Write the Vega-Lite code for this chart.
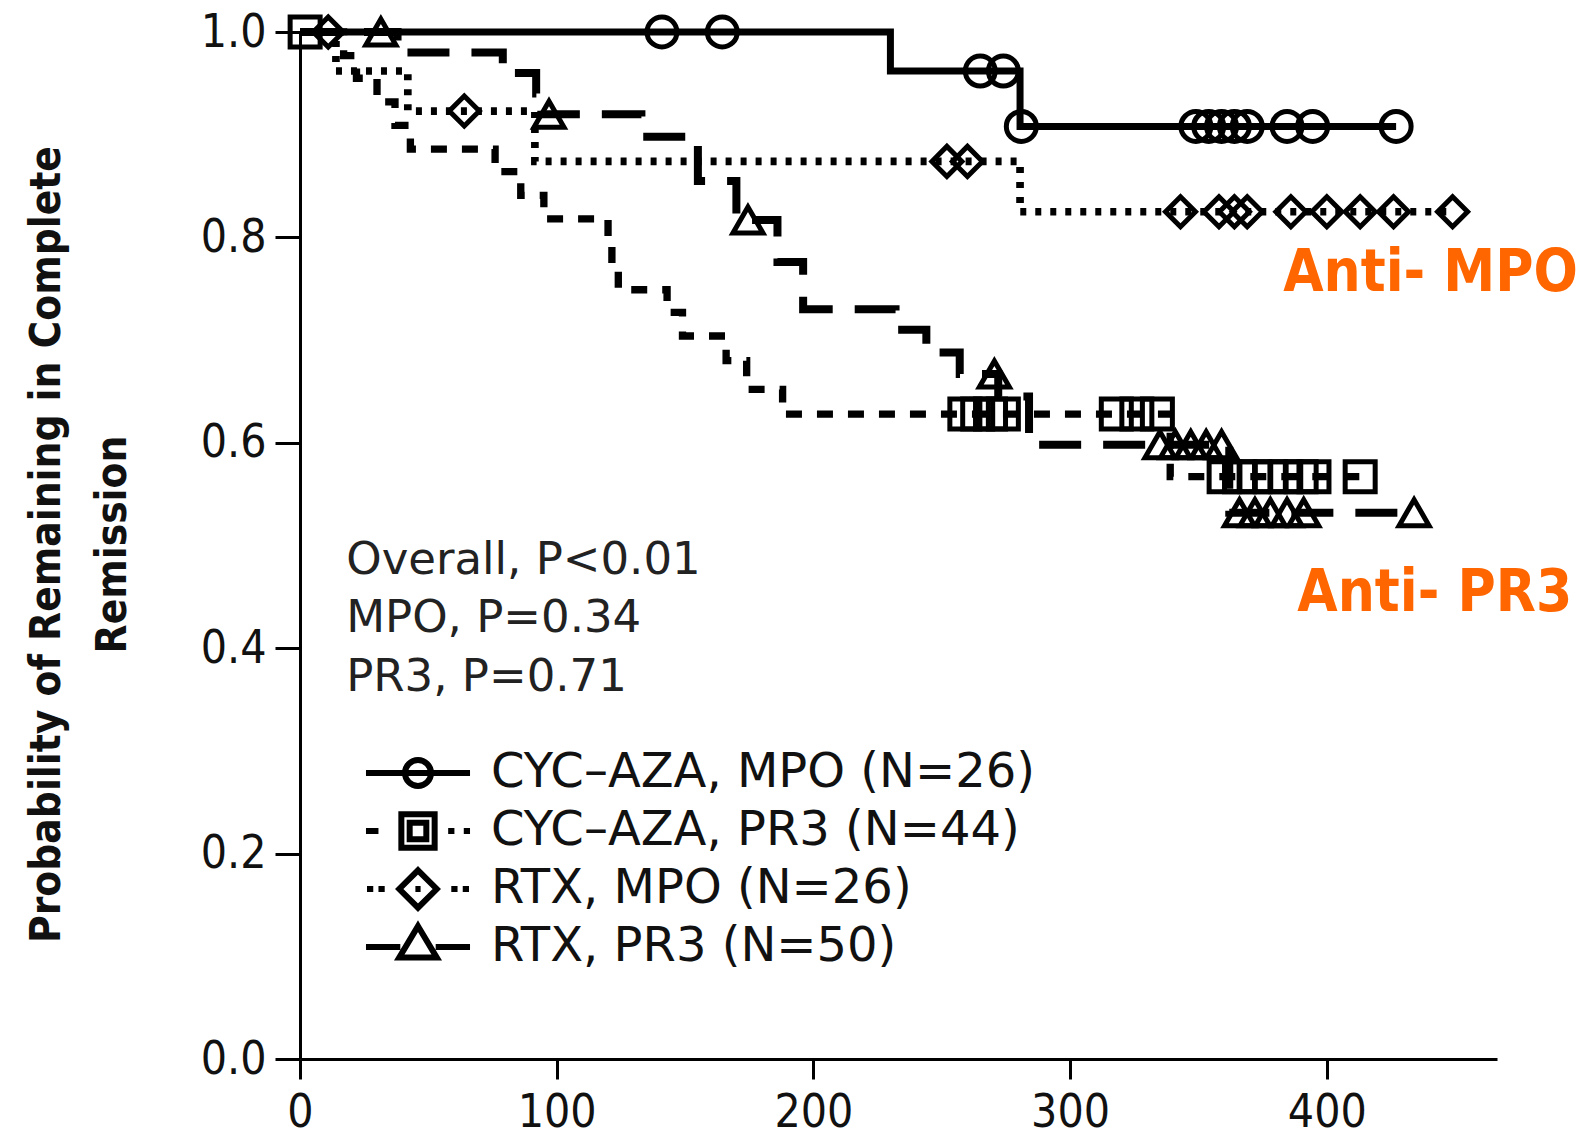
{
  "$schema": "https://vega.github.io/schema/vega-lite/v6.json",
  "width": 1197,
  "height": 1027,
  "autosize": {"type": "none"},
  "padding": {"left": 300, "top": 32, "right": 89, "bottom": 80},
  "background": "white",
  "config": {
    "view": {"stroke": null},
    "axis": {"grid": false, "domainColor": "black", "tickColor": "black", "labelColor": "#111", "titleColor": "#111", "domainWidth": 3, "tickWidth": 3}
  },
  "datasets": {
    "curves": [
      {"series": "CYC–AZA, MPO (N=26)", "t": 0, "s": 1},
      {"series": "CYC–AZA, MPO (N=26)", "t": 230, "s": 0.962},
      {"series": "CYC–AZA, MPO (N=26)", "t": 280.5, "s": 0.908},
      {"series": "CYC–AZA, MPO (N=26)", "t": 427, "s": 0.908},
      {"series": "CYC–AZA, PR3 (N=44)", "t": 0, "s": 1},
      {"series": "CYC–AZA, PR3 (N=44)", "t": 17, "s": 0.977},
      {"series": "CYC–AZA, PR3 (N=44)", "t": 22, "s": 0.955},
      {"series": "CYC–AZA, PR3 (N=44)", "t": 30, "s": 0.932},
      {"series": "CYC–AZA, PR3 (N=44)", "t": 37, "s": 0.909},
      {"series": "CYC–AZA, PR3 (N=44)", "t": 43, "s": 0.886},
      {"series": "CYC–AZA, PR3 (N=44)", "t": 76, "s": 0.864},
      {"series": "CYC–AZA, PR3 (N=44)", "t": 86, "s": 0.841},
      {"series": "CYC–AZA, PR3 (N=44)", "t": 95, "s": 0.818},
      {"series": "CYC–AZA, PR3 (N=44)", "t": 120, "s": 0.795},
      {"series": "CYC–AZA, PR3 (N=44)", "t": 121.5, "s": 0.772},
      {"series": "CYC–AZA, PR3 (N=44)", "t": 124, "s": 0.749},
      {"series": "CYC–AZA, PR3 (N=44)", "t": 143, "s": 0.727},
      {"series": "CYC–AZA, PR3 (N=44)", "t": 149, "s": 0.704},
      {"series": "CYC–AZA, PR3 (N=44)", "t": 166, "s": 0.68},
      {"series": "CYC–AZA, PR3 (N=44)", "t": 174, "s": 0.652},
      {"series": "CYC–AZA, PR3 (N=44)", "t": 188, "s": 0.628},
      {"series": "CYC–AZA, PR3 (N=44)", "t": 339, "s": 0.567},
      {"series": "CYC–AZA, PR3 (N=44)", "t": 413, "s": 0.567},
      {"series": "RTX, MPO (N=26)", "t": 0, "s": 1},
      {"series": "RTX, MPO (N=26)", "t": 14, "s": 0.962},
      {"series": "RTX, MPO (N=26)", "t": 42, "s": 0.923},
      {"series": "RTX, MPO (N=26)", "t": 91.5, "s": 0.874},
      {"series": "RTX, MPO (N=26)", "t": 280.5, "s": 0.825},
      {"series": "RTX, MPO (N=26)", "t": 449, "s": 0.825},
      {"series": "RTX, PR3 (N=50)", "t": 0, "s": 1},
      {"series": "RTX, PR3 (N=50)", "t": 38, "s": 0.98},
      {"series": "RTX, PR3 (N=50)", "t": 79, "s": 0.96},
      {"series": "RTX, PR3 (N=50)", "t": 92, "s": 0.94},
      {"series": "RTX, PR3 (N=50)", "t": 94, "s": 0.92},
      {"series": "RTX, PR3 (N=50)", "t": 133, "s": 0.898},
      {"series": "RTX, PR3 (N=50)", "t": 155, "s": 0.855},
      {"series": "RTX, PR3 (N=50)", "t": 170, "s": 0.817},
      {"series": "RTX, PR3 (N=50)", "t": 186, "s": 0.776},
      {"series": "RTX, PR3 (N=50)", "t": 196, "s": 0.73},
      {"series": "RTX, PR3 (N=50)", "t": 232, "s": 0.71},
      {"series": "RTX, PR3 (N=50)", "t": 244, "s": 0.688},
      {"series": "RTX, PR3 (N=50)", "t": 257, "s": 0.667},
      {"series": "RTX, PR3 (N=50)", "t": 272, "s": 0.645},
      {"series": "RTX, PR3 (N=50)", "t": 284, "s": 0.598},
      {"series": "RTX, PR3 (N=50)", "t": 362, "s": 0.532},
      {"series": "RTX, PR3 (N=50)", "t": 434, "s": 0.532}
    ],
    "censors": [
      {"series": "CYC–AZA, MPO (N=26)", "t": 141, "s": 1},
      {"series": "CYC–AZA, MPO (N=26)", "t": 164.5, "s": 1},
      {"series": "CYC–AZA, MPO (N=26)", "t": 265, "s": 0.962},
      {"series": "CYC–AZA, MPO (N=26)", "t": 274, "s": 0.962},
      {"series": "CYC–AZA, MPO (N=26)", "t": 281, "s": 0.908},
      {"series": "CYC–AZA, MPO (N=26)", "t": 349, "s": 0.908},
      {"series": "CYC–AZA, MPO (N=26)", "t": 354, "s": 0.908},
      {"series": "CYC–AZA, MPO (N=26)", "t": 359, "s": 0.908},
      {"series": "CYC–AZA, MPO (N=26)", "t": 364, "s": 0.908},
      {"series": "CYC–AZA, MPO (N=26)", "t": 369, "s": 0.908},
      {"series": "CYC–AZA, MPO (N=26)", "t": 384.5, "s": 0.908},
      {"series": "CYC–AZA, MPO (N=26)", "t": 394.5, "s": 0.908},
      {"series": "CYC–AZA, MPO (N=26)", "t": 427, "s": 0.908},
      {"series": "CYC–AZA, PR3 (N=44)", "t": 2, "s": 1},
      {"series": "CYC–AZA, PR3 (N=44)", "t": 259, "s": 0.628},
      {"series": "CYC–AZA, PR3 (N=44)", "t": 264, "s": 0.628},
      {"series": "CYC–AZA, PR3 (N=44)", "t": 269, "s": 0.628},
      {"series": "CYC–AZA, PR3 (N=44)", "t": 274, "s": 0.628},
      {"series": "CYC–AZA, PR3 (N=44)", "t": 318, "s": 0.628},
      {"series": "CYC–AZA, PR3 (N=44)", "t": 326, "s": 0.628},
      {"series": "CYC–AZA, PR3 (N=44)", "t": 334, "s": 0.628},
      {"series": "CYC–AZA, PR3 (N=44)", "t": 360, "s": 0.567},
      {"series": "CYC–AZA, PR3 (N=44)", "t": 366, "s": 0.567},
      {"series": "CYC–AZA, PR3 (N=44)", "t": 372, "s": 0.567},
      {"series": "CYC–AZA, PR3 (N=44)", "t": 378, "s": 0.567},
      {"series": "CYC–AZA, PR3 (N=44)", "t": 384, "s": 0.567},
      {"series": "CYC–AZA, PR3 (N=44)", "t": 390, "s": 0.567},
      {"series": "CYC–AZA, PR3 (N=44)", "t": 395, "s": 0.567},
      {"series": "CYC–AZA, PR3 (N=44)", "t": 413, "s": 0.567},
      {"series": "RTX, MPO (N=26)", "t": 11, "s": 1},
      {"series": "RTX, MPO (N=26)", "t": 64, "s": 0.923},
      {"series": "RTX, MPO (N=26)", "t": 252, "s": 0.874},
      {"series": "RTX, MPO (N=26)", "t": 260, "s": 0.874},
      {"series": "RTX, MPO (N=26)", "t": 343, "s": 0.825},
      {"series": "RTX, MPO (N=26)", "t": 358, "s": 0.825},
      {"series": "RTX, MPO (N=26)", "t": 364, "s": 0.825},
      {"series": "RTX, MPO (N=26)", "t": 369, "s": 0.825},
      {"series": "RTX, MPO (N=26)", "t": 386, "s": 0.825},
      {"series": "RTX, MPO (N=26)", "t": 400, "s": 0.825},
      {"series": "RTX, MPO (N=26)", "t": 413, "s": 0.825},
      {"series": "RTX, MPO (N=26)", "t": 426, "s": 0.825},
      {"series": "RTX, MPO (N=26)", "t": 449, "s": 0.825},
      {"series": "RTX, PR3 (N=50)", "t": 31.5, "s": 1},
      {"series": "RTX, PR3 (N=50)", "t": 97, "s": 0.92},
      {"series": "RTX, PR3 (N=50)", "t": 174.5, "s": 0.817},
      {"series": "RTX, PR3 (N=50)", "t": 270.5, "s": 0.667},
      {"series": "RTX, PR3 (N=50)", "t": 335, "s": 0.598},
      {"series": "RTX, PR3 (N=50)", "t": 341, "s": 0.598},
      {"series": "RTX, PR3 (N=50)", "t": 347, "s": 0.598},
      {"series": "RTX, PR3 (N=50)", "t": 353, "s": 0.598},
      {"series": "RTX, PR3 (N=50)", "t": 359, "s": 0.598},
      {"series": "RTX, PR3 (N=50)", "t": 366, "s": 0.532},
      {"series": "RTX, PR3 (N=50)", "t": 372, "s": 0.532},
      {"series": "RTX, PR3 (N=50)", "t": 378, "s": 0.532},
      {"series": "RTX, PR3 (N=50)", "t": 384.5, "s": 0.532},
      {"series": "RTX, PR3 (N=50)", "t": 391, "s": 0.532},
      {"series": "RTX, PR3 (N=50)", "t": 434, "s": 0.532}
    ],
    "stats": [
      {"label": "Overall, P<0.01", "t": 18, "s": 0.486},
      {"label": "MPO, P=0.34", "t": 18, "s": 0.429},
      {"label": "PR3, P=0.71", "t": 18, "s": 0.372}
    ],
    "groups": [
      {"label": "Anti- MPO", "t": 383, "s": 0.764},
      {"label": "Anti- PR3", "t": 388.5, "s": 0.4526}
    ],
    "series": [
      {"series": "CYC–AZA, MPO (N=26)"},
      {"series": "CYC–AZA, PR3 (N=44)"},
      {"series": "RTX, MPO (N=26)"},
      {"series": "RTX, PR3 (N=50)"}
    ]
  },
  "encoding": {
    "x": {
      "field": "t", "type": "quantitative",
      "scale": {"domain": [0, 466.3], "nice": false, "zero": false},
      "axis": {"values": [0, 100, 200, 300, 400], "title": null, "labelFont": "DejaVu Sans Condensed", "labelFontSize": 46, "tickSize": 20, "labelPadding": 11, "labelFlush": false}
    },
    "y": {
      "field": "s", "type": "quantitative",
      "scale": {"domain": [0, 1], "nice": false},
      "axis": {
        "values": [0, 0.2, 0.4, 0.6, 0.8, 1.0], "format": ".1f",
        "labelFont": "DejaVu Sans Condensed", "labelFontSize": 46, "tickSize": 25, "labelPadding": 9, "labelFlush": false,
        "title": ["Probability of Remaining in Complete", "Remission"],
        "titleFont": "DejaVu Sans Condensed", "titleFontSize": 42, "titleFontWeight": "bold",
        "titleLineHeight": 66, "titleX": -232, "titleY": 512, "titleAngle": -90, "titleBaseline": "bottom", "titleAlign": "center"
      }
    }
  },
  "layer": [
    {
      "data": {"name": "curves"},
      "mark": {"type": "line", "interpolate": "step-after", "color": "black", "strokeCap": "butt"},
      "encoding": {
        "strokeDash": {
          "field": "series", "type": "nominal", "legend": null,
          "scale": {
            "domain": ["CYC–AZA, MPO (N=26)", "CYC–AZA, PR3 (N=44)", "RTX, MPO (N=26)", "RTX, PR3 (N=50)"],
            "range": [[1, 0], [16, 15], [6, 9], [42, 22]]
          }
        },
        "strokeWidth": {
          "field": "series", "type": "ordinal", "legend": null,
          "scale": {
            "domain": ["CYC–AZA, MPO (N=26)", "CYC–AZA, PR3 (N=44)", "RTX, MPO (N=26)", "RTX, PR3 (N=50)"],
            "range": [7, 8, 5, 7]
          }
        }
      }
    },
    {
      "data": {"name": "censors"},
      "mark": {"type": "point", "filled": false, "color": "black", "strokeWidth": 5, "size": 900, "opacity": 1},
      "encoding": {
        "shape": {
          "field": "series", "type": "nominal", "legend": null,
          "scale": {
            "domain": ["CYC–AZA, MPO (N=26)", "CYC–AZA, PR3 (N=44)", "RTX, MPO (N=26)", "RTX, PR3 (N=50)"],
            "range": ["circle", "square", "diamond", "triangle-up"]
          }
        }
      }
    },
    {
      "data": {"name": "series"},
      "transform": [{"filter": "false"}],
      "mark": {"type": "point", "filled": false, "color": "black", "strokeWidth": 6},
      "encoding": {
        "x": {"value": 0},
        "y": {"value": 0},
        "shape": {
          "field": "series", "type": "nominal",
          "scale": {
            "domain": ["CYC–AZA, MPO (N=26)", "CYC–AZA, PR3 (N=44)", "RTX, MPO (N=26)", "RTX, PR3 (N=50)"],
            "range": [
              "M0,-2.1M0,2.1M-5,0H5M1.25,0A1.25,1.25,0,1,1,-1.25,0A1.25,1.25,0,1,1,1.25,0Z",
              "M0,-2.1M0,2.1M-5,0H-3.8M-1.6,-1.6H1.6V1.6H-1.6ZM-0.8,-0.8H0.8V0.8H-0.8ZM2.9,0H3.5M4.4,0H5",
              "M0,-2.1M0,2.1M-4.9,0H-4.3M-3.8,0H-3.2M0,-1.8L1.8,0L0,1.8L-1.8,0ZM-0.25,0H0.25M3.2,0H3.8M4.3,0H4.9",
              "M0,-2.1M0,2.1M-5,0H-1.7M1.7,0H5M0,-2.0L1.8,1.0L-1.8,1.0Z"
            ]
          },
          "legend": {
            "orient": "none", "legendX": 94, "legendY": 717, "title": null,
            "symbolSize": 433, "symbolStrokeWidth": 6, "symbolStrokeColor": "black", "symbolFillColor": "transparent", "symbolOpacity": 1,
            "labelFont": "DejaVu Sans", "labelFontSize": 48, "labelColor": "#111", "labelOffset": 49, "rowPadding": -30, "padding": 0,
            "symbolLimit": 0, "labelLimit": 0
          }
        }
      }
    },
    {
      "data": {"name": "stats"},
      "mark": {"type": "text", "align": "left", "baseline": "middle", "font": "DejaVu Sans", "fontSize": 45, "color": "#222"},
      "encoding": {"text": {"field": "label", "type": "nominal"}}
    },
    {
      "data": {"name": "groups"},
      "mark": {"type": "text", "align": "left", "baseline": "middle", "font": "DejaVu Sans Condensed", "fontSize": 58, "fontWeight": "bold", "color": "#FF6600"},
      "encoding": {"text": {"field": "label", "type": "nominal"}}
    }
  ],
  "resolve": {"scale": {"shape": "independent"}}
}
